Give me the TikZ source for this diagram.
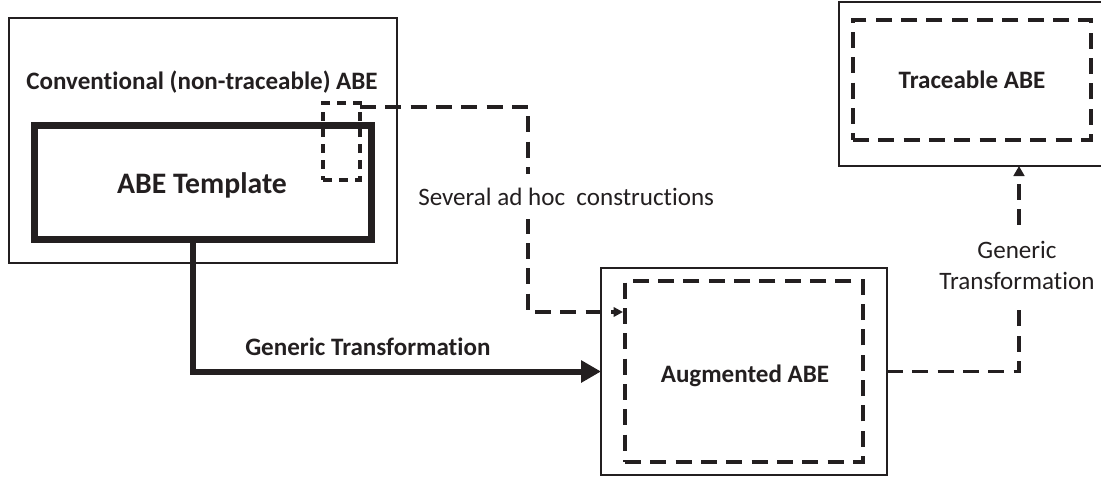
\documentclass[tikz,border=0pt]{standalone}
\usepackage{fontspec}
\setmainfont{Carlito}[Ligatures=NoCommon]
\usetikzlibrary{arrows.meta,calc}
\definecolor{ink}{HTML}{231F20}
\begin{document}
\begin{tikzpicture}[x=0.75pt,y=-0.75pt,
  every node/.style={text=ink},
  box/.style={draw=ink, line width=1.5pt, inner sep=0pt, outer sep=0pt},
  tmplbox/.style={draw=ink, line width=5.25pt, inner sep=0pt, outer sep=0pt},
  dbox/.style={draw=ink, line width=3pt, dash pattern=on 12pt off 7pt, inner sep=0pt, outer sep=0pt},
  sbox/.style={draw=ink, line width=2.6pt, dash pattern=on 7pt off 5pt, inner sep=0pt, outer sep=0pt},
  lbl/.style={font=\fontsize{18.8}{23.25}\selectfont},
  blbl/.style={font=\fontsize{18.8}{22.5}\selectfont\bfseries},
  dconn/.style={draw=ink, line width=2.6pt, dash pattern=on 12pt off 7pt},
  thk/.style={draw=ink, line width=4.5pt, -{Triangle[length=15pt,width=16pt]}},
]
\useasboundingbox (0,0) rectangle (1101,476);

% boxes
\node[box, minimum width=388*0.75pt, minimum height=245*0.75pt] (conv) at (203,140.5) {};
\node[tmplbox, minimum width=337*0.75pt, minimum height=114*0.75pt] (templ) at (203,182.5) {};
\node[sbox, minimum width=37*0.75pt, minimum height=77*0.75pt] (sm) at (341.5,141.5) {};
\node[box, minimum width=286*0.75pt, minimum height=207*0.75pt] (aug) at (744,371.5) {};
\node[dbox, minimum width=238*0.75pt, minimum height=181*0.75pt] (augin) at (744,371.5) {};
\node[box, minimum width=264*0.75pt, minimum height=164*0.75pt] (trace) at (971,84) {};
\node[dbox, minimum width=238*0.75pt, minimum height=120*0.75pt] (tracein) at (972,80) {};

% connectors
\coordinate (k) at (528,312);
\draw[dconn, -{Triangle[length=7pt,width=7pt]}, shorten >=1.5pt]
  ([yshift=-3pt]sm.north east) -| (k) -- (k -| augin.west);
\draw[thk] ([xshift=-7.5pt]templ.south) |- (aug.west);
\draw[dconn, -{Triangle[length=7.5pt,width=8pt]}]
  (aug.east) -| ([xshift=36pt]trace.south);

% labels
\node[blbl, anchor=base] (convlbl) at (202,89) {Conventional (non-traceable) ABE};
\node[font=\fontsize{22.3}{26}\selectfont\bfseries, anchor=base] (tmpllbl) at (202,193) {ABE Template};
\node[lbl, anchor=base west, fill=white, inner xsep=0pt, inner ysep=10pt] (adhoc) at (418,205) {Several ad hoc\ \ constructions};
\node[blbl, anchor=base west, inner sep=0pt] (gtlbl) at (245,355) {Generic Transformation};
\node[blbl, anchor=base] (auglbl) at (745,382) {Augmented ABE};
\node[blbl, anchor=base] (tracelbl) at (972,88) {Traceable ABE};
\node[lbl, align=center, fill=white, inner xsep=2pt, inner ysep=10pt] (gt2lbl) at (1017,265) {Generic\\Transformation};
\end{tikzpicture}
\end{document}
